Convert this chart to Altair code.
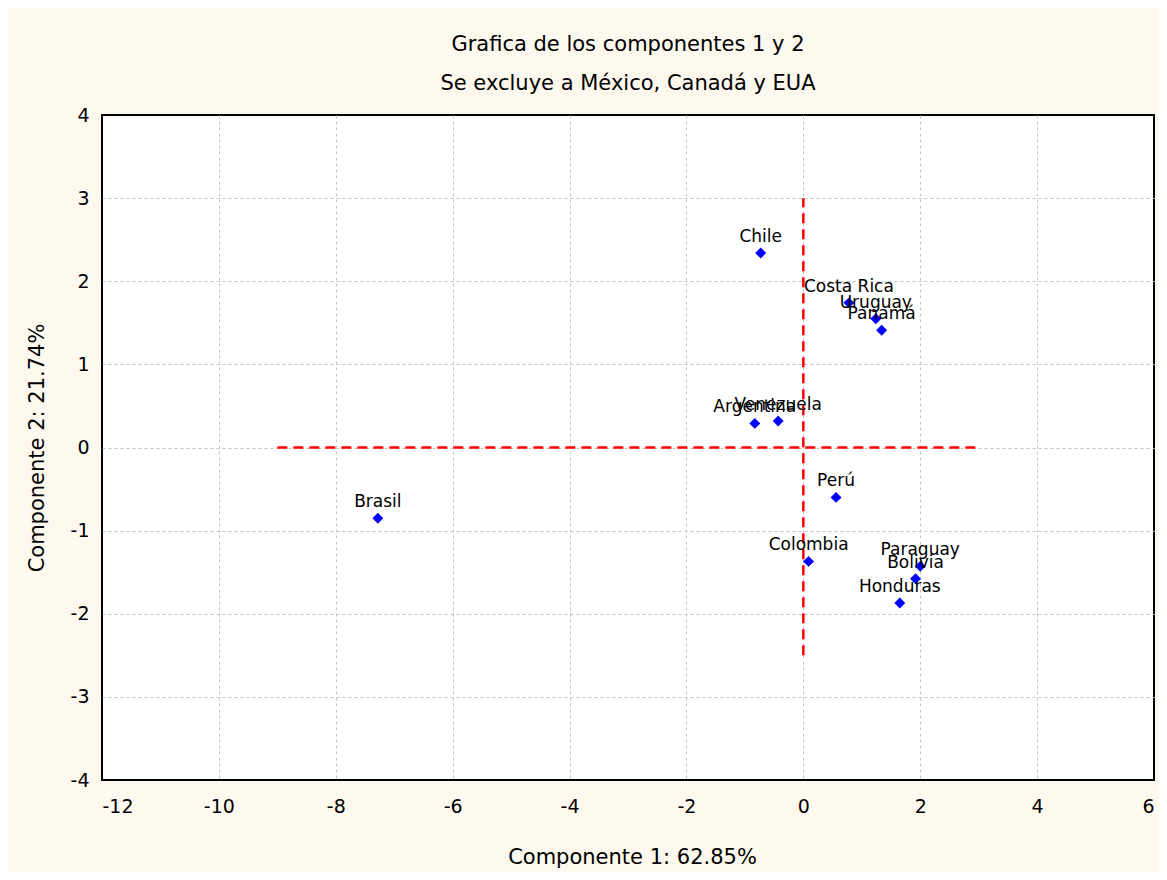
import altair as alt
import pandas as pd

countries = ["Chile", "Costa Rica", "Uruguay", "Panamá", "Argentina", "Venezuela",
             "Perú", "Brasil", "Colombia", "Paraguay", "Bolivia", "Honduras"]
comp1 = [-0.73, 0.78, 1.24, 1.34, -0.83, -0.43, 0.56, -7.28, 0.09, 2.00, 1.92, 1.65]
comp2 = [2.34, 1.74, 1.55, 1.41, 0.29, 0.32, -0.60, -0.85, -1.37, -1.43, -1.58, -1.87]

# reference lines (red dashed)
hline_x = [-9, 3]
hline_y = [0, 0]
vline_x = [0, 0]
vline_y = [-2.5, 3]

x_ticks = [-12, -10, -8, -6, -4, -2, 0, 2, 4, 6]
y_ticks = [-4, -3, -2, -1, 0, 1, 2, 3, 4]

FONT = "DejaVu Sans"
W, H = 1052, 665

df = pd.DataFrame({"pais": countries, "c1": comp1, "c2": comp2})
hdf = pd.DataFrame({"x": [hline_x[0]], "x2": [hline_x[1]], "y": [hline_y[0]]})
vdf = pd.DataFrame({"x": [vline_x[0]], "y": [vline_y[0]], "y2": [vline_y[1]]})

xscale = alt.Scale(domain=[-12, 6], nice=False, zero=False)
yscale = alt.Scale(domain=[-4, 4], nice=False, zero=False)

xaxis = alt.Axis(values=x_ticks, title="Componente 1: 62.85%", grid=True,
                 gridDash=[3, 3], gridColor="#c4c4c4", domain=False, ticks=False,
                 gridOpacity={"condition": {"test": "datum.value == -12 || datum.value == 6",
                                            "value": 0}, "value": 1},
                 labelExpr="datum.value + ''",
                 labelFontSize=19, labelPadding=17, labelColor="black",
                 titleFontSize=21, titleFontWeight="normal",
                 titleX=530, titleY=77, titleBaseline="middle", titleAlign="center",
                 titleColor="black", labelFont=FONT, titleFont=FONT)
yaxis = alt.Axis(values=y_ticks, title="Componente 2: 21.74%", grid=True,
                 gridDash=[3, 3], gridColor="#c4c4c4", domain=False, ticks=False,
                 gridOpacity={"condition": {"test": "datum.value == -4 || datum.value == 4",
                                            "value": 0}, "value": 1},
                 labelExpr="datum.value + ''",
                 labelFontSize=19, labelPadding=13, labelColor="black",
                 titleFontSize=21, titleFontWeight="normal",
                 titleX=-65, titleY=H / 2, titleAngle=270, titleBaseline="middle",
                 titleAlign="center",
                 titleColor="black", labelFont=FONT, titleFont=FONT)

points = alt.Chart(df).mark_point(shape="diamond", filled=True, color="#0000ff",
                                  size=120, opacity=1).encode(
    x=alt.X("c1:Q", scale=xscale, axis=xaxis),
    y=alt.Y("c2:Q", scale=yscale, axis=yaxis),
)

labels = alt.Chart(df).mark_text(dy=-16, fontSize=17, font=FONT, color="black",
                                 align="center").encode(
    x=alt.X("c1:Q", scale=xscale),
    y=alt.Y("c2:Q", scale=yscale),
    text="pais:N",
)

hrule = alt.Chart(hdf).mark_rule(color="#ff0000", strokeDash=[10, 6], strokeWidth=2.5).encode(
    x=alt.X("x:Q", scale=xscale), x2="x2:Q", y=alt.Y("y:Q", scale=yscale))
vrule = alt.Chart(vdf).mark_rule(color="#ff0000", strokeDash=[10, 6], strokeWidth=2.5).encode(
    x=alt.X("x:Q", scale=xscale), y=alt.Y("y:Q", scale=yscale), y2="y2:Q")

chart = alt.layer(hrule, vrule, points, labels).properties(
    width=W, height=H,
    title=alt.TitleParams(
        text="Grafica de los componentes 1 y 2",
        subtitle="Se excluye a México, Canadá y EUA",
        fontSize=21, subtitleFontSize=21, font=FONT, subtitleFont=FONT,
        fontWeight="normal", color="black", subtitleColor="black",
        anchor="middle", offset=12, subtitlePadding=18,
    ),
    autosize=alt.AutoSizeParams(type="none"),
    padding={"left": 94, "top": 107, "right": 5, "bottom": 92},
).configure(background="#fef9ee").configure_view(
    stroke="black", strokeWidth=2, fill="white"
)

chart.save("out.html", embed_options={"renderer": "svg", "actions": False})
